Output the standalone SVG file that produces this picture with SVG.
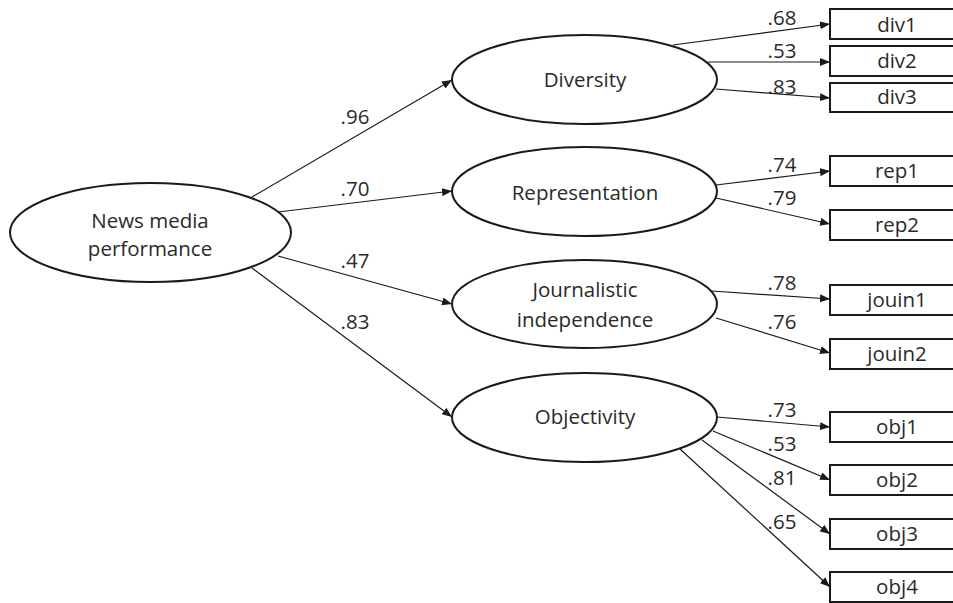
<svg xmlns="http://www.w3.org/2000/svg" width="953" height="603" viewBox="0 0 953 603">
<defs>
<marker id="arr" viewBox="0 0 10 8" refX="10" refY="4" markerWidth="10" markerHeight="8" markerUnits="userSpaceOnUse" orient="auto">
<path d="M0,0 L10,4 L0,8 Z" fill="#1a1a1a"/>
</marker>
</defs>
<style>
.lat{fill:#fff;stroke:#1a1a1a;stroke-width:2}
.box{fill:#fff;stroke:#1a1a1a;stroke-width:2}
.t{font-family:"Open Sans","Noto Sans",sans-serif;font-size:20.5px;fill:#2a2a2a;text-anchor:middle}
.c line{stroke:#1a1a1a;stroke-width:1.2;marker-end:url(#arr)}
</style>
<rect width="953" height="603" fill="#fff"/>
<g class="c" id="connectors">
<line x1="252" y1="197" x2="452" y2="80"/>
<line x1="278" y1="212" x2="452" y2="191"/>
<line x1="278" y1="256" x2="452" y2="304"/>
<line x1="252" y1="268" x2="452" y2="417"/>
<line x1="673" y1="45" x2="830" y2="24"/>
<line x1="708" y1="62" x2="830" y2="62"/>
<line x1="716" y1="89" x2="830" y2="98"/>
<line x1="716" y1="185" x2="830" y2="171"/>
<line x1="716" y1="198" x2="830" y2="224"/>
<line x1="712" y1="291" x2="830" y2="299"/>
<line x1="716" y1="318" x2="830" y2="353"/>
<line x1="717" y1="417" x2="830" y2="427"/>
<line x1="713" y1="431" x2="830" y2="480"/>
<line x1="702" y1="440" x2="830" y2="534"/>
<line x1="680" y1="449" x2="830" y2="587"/>
</g>
<g id="labels" class="t">
<text x="355" y="124">.96</text>
<text x="355" y="196">.70</text>
<text x="355" y="268">.47</text>
<text x="355" y="329">.83</text>
<text x="782" y="25">.68</text>
<text x="782" y="58">.53</text>
<text x="782" y="94">.83</text>
<text x="782" y="172">.74</text>
<text x="782" y="205">.79</text>
<text x="782" y="290">.78</text>
<text x="782" y="329">.76</text>
<text x="782" y="417">.73</text>
<text x="782" y="451">.53</text>
<text x="782" y="485">.81</text>
<text x="782" y="529">.65</text>
</g>
<g id="news"><ellipse class="lat" cx="150.5" cy="232.5" rx="140.5" ry="49.5"/><text class="t" x="150" y="228">News media</text><text class="t" x="150" y="256">performance</text></g>
<g id="diversity"><ellipse class="lat" cx="584.5" cy="79.5" rx="132.5" ry="44.5"/><text class="t" x="585" y="87">Diversity</text></g>
<g id="representation"><ellipse class="lat" cx="584.5" cy="191.5" rx="132.5" ry="44.5"/><text class="t" x="585" y="200">Representation</text></g>
<g id="journalistic"><ellipse class="lat" cx="584.5" cy="304" rx="132.5" ry="44"/><text class="t" x="585" y="297">Journalistic</text><text class="t" x="585" y="327">independence</text></g>
<g id="objectivity"><ellipse class="lat" cx="584.5" cy="417.5" rx="132.5" ry="44.5"/><text class="t" x="585" y="424">Objectivity</text></g>
<g id="div1"><rect class="box" x="830" y="9" width="135" height="30"/><text class="t" x="897" y="32">div1</text></g>
<g id="div2"><rect class="box" x="830" y="46" width="135" height="30"/><text class="t" x="897" y="68">div2</text></g>
<g id="div3"><rect class="box" x="830" y="83" width="135" height="29"/><text class="t" x="897" y="104">div3</text></g>
<g id="rep1"><rect class="box" x="830" y="156" width="135" height="30"/><text class="t" x="897" y="178">rep1</text></g>
<g id="rep2"><rect class="box" x="830" y="210" width="135" height="30"/><text class="t" x="897" y="232">rep2</text></g>
<g id="jouin1"><rect class="box" x="830" y="285" width="135" height="30"/><text class="t" x="897" y="307">jouin1</text></g>
<g id="jouin2"><rect class="box" x="830" y="339" width="135" height="30"/><text class="t" x="897" y="361">jouin2</text></g>
<g id="obj1"><rect class="box" x="830" y="412" width="135" height="30"/><text class="t" x="897" y="434">obj1</text></g>
<g id="obj2"><rect class="box" x="830" y="465" width="135" height="30"/><text class="t" x="897" y="487">obj2</text></g>
<g id="obj3"><rect class="box" x="830" y="519" width="135" height="30"/><text class="t" x="897" y="541">obj3</text></g>
<g id="obj4"><rect class="box" x="830" y="572" width="135" height="30"/><text class="t" x="897" y="594">obj4</text></g>
</svg>
